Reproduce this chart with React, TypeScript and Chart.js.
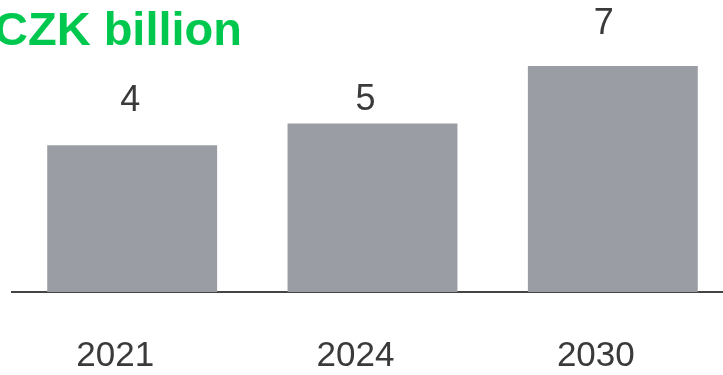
import React, { useEffect, useRef } from "react";
import { Chart, registerables } from "chart.js";

Chart.register(...registerables);

const TITLE = "CZK billion";
const CATEGORIES = ["2021", "2024", "2030"];
const VALUES = [4.35, 5.0, 6.7];
const VALUE_LABELS = ["4", "5", "7"];
const Y_MAX = 7;

const FONT = "'Liberation Sans', Arial, Helvetica, sans-serif";
const TEXT_COLOR = "#3a3a3a";

// layout tweaks for value labels (offsets relative to each bar's top)
const LABEL_DX = [-2, -7, -9];
const LABEL_GAP = [44, 23, 42];

const valueLabelPlugin = {
  id: "valueLabels",
  afterDatasetsDraw(chart: any) {
    const ctx = chart.ctx;
    const meta = chart.getDatasetMeta(0);
    ctx.save();
    ctx.font = `36px ${FONT}`;
    ctx.fillStyle = TEXT_COLOR;
    ctx.textAlign = "center";
    ctx.textBaseline = "middle";
    meta.data.forEach((bar: any, i: number) => {
      const { x, y } = bar.getProps(["x", "y"], true);
      ctx.fillText(VALUE_LABELS[i], x + LABEL_DX[i], y - LABEL_GAP[i]);
    });
    ctx.restore();
  },
};

export default function App() {
  const ref = useRef<HTMLCanvasElement | null>(null);

  useEffect(() => {
    document.body.style.margin = "0";
    if (!ref.current) return;
    const chart = new Chart(ref.current, {
      type: "bar",
      data: {
        labels: CATEGORIES,
        datasets: [
          {
            data: VALUES,
            backgroundColor: "#9a9ea4",
            borderWidth: 0,
            categoryPercentage: 1,
            barPercentage: 0.707,
          },
        ],
      },
      options: {
        responsive: false,
        animation: false,
        layout: { padding: 0 },
        plugins: {
          legend: { display: false },
          tooltip: { enabled: false },
          title: {
            display: true,
            text: TITLE,
            align: "start",
            color: "#00c84f",
            font: { family: FONT, size: 47, weight: "bold", lineHeight: 1 },
            padding: { top: 9, bottom: 0 },
          },
        },
        scales: {
          x: {
            z: 1,
            grid: { display: false, drawTicks: false },
            border: { display: true, color: "#444444", width: 2 },
            ticks: {
              color: TEXT_COLOR,
              font: { family: FONT, size: 35, lineHeight: 1 },
              padding: 47,
              labelOffset: -17,
              maxRotation: 0,
            },
            afterFit: (s: any) => {
              s.height = 83;
            },
          },
          y: {
            min: 0,
            max: Y_MAX,
            grid: { display: false, drawTicks: false },
            border: { display: false },
            ticks: { display: false },
            afterFit: (s: any) => {
              s.width = 18;
            },
          },
        },
      },
      plugins: [valueLabelPlugin],
    });
    return () => chart.destroy();
  }, []);

  return (
    <div style={{ position: "relative", width: 723, height: 375, overflow: "hidden" }}>
      <canvas
        ref={ref}
        width={739}
        height={375}
        style={{ position: "absolute", left: -6, top: 0, width: 739, height: 375 }}
      />
    </div>
  );
}
